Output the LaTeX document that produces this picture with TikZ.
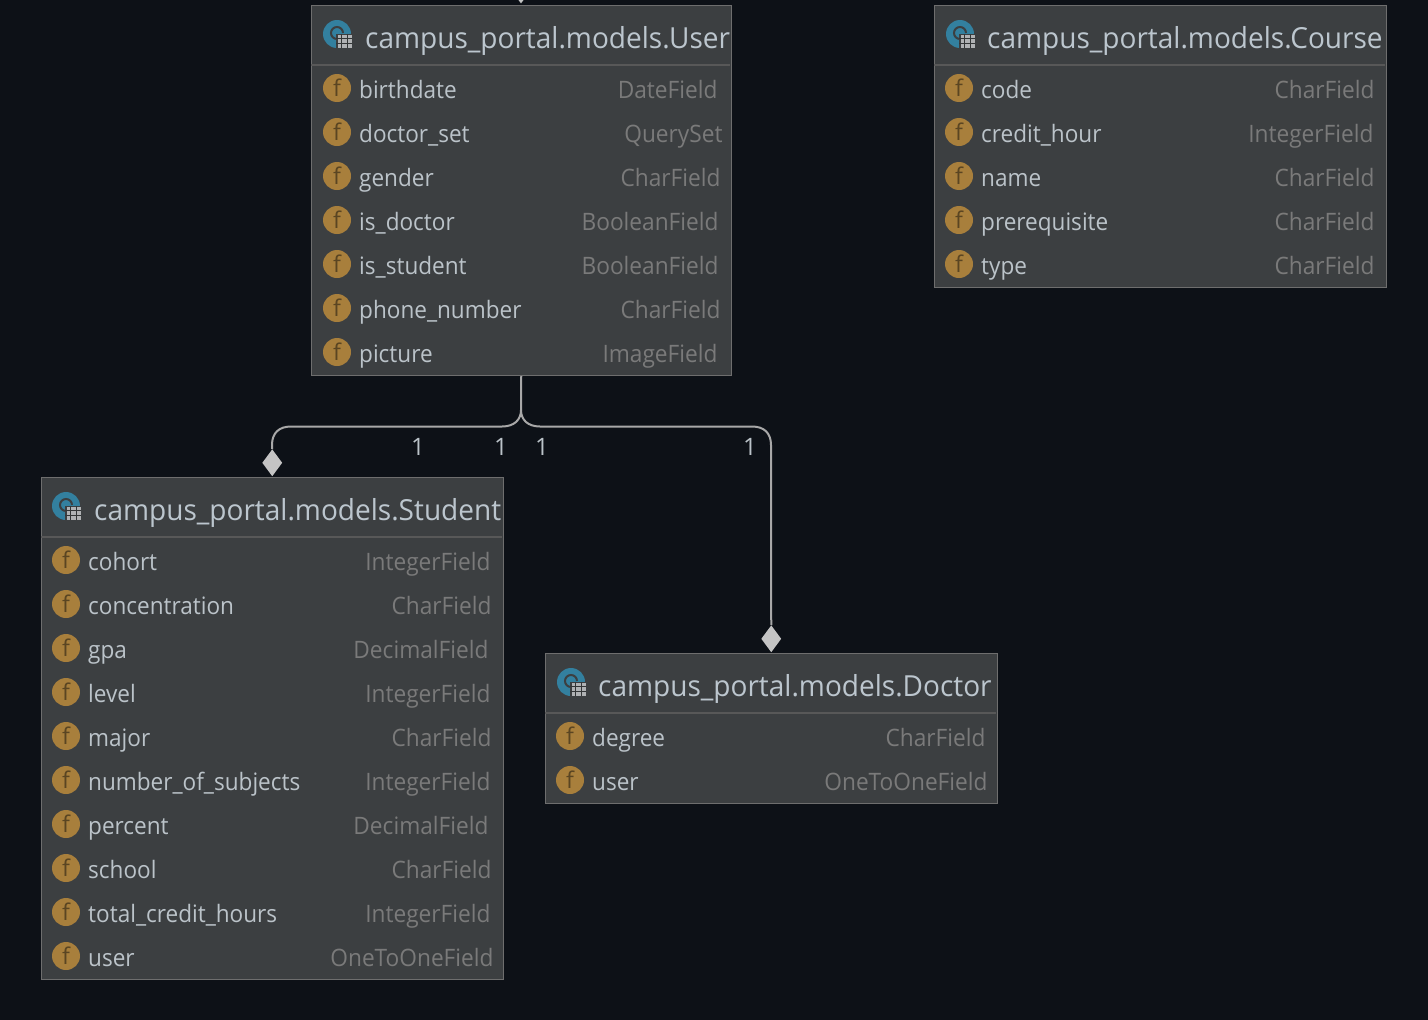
\documentclass[tikz,border=0pt]{standalone}
\usepackage{fontspec}
\setmainfont{Open Sans}
\newfontfamily\titlefont[FakeStretch=0.966]{Open Sans}
\newfontfamily\namefont[FakeStretch=0.94]{Open Sans}
\newfontfamily\typefont[FakeStretch=0.945]{Open Sans}
\usetikzlibrary{shapes.geometric}
\definecolor{bgc}{HTML}{0D1117}
\definecolor{boxc}{HTML}{3C3F41}
\definecolor{edgec}{HTML}{6E6E6E}
\definecolor{linec}{HTML}{A8A8A8}
\definecolor{diac}{HTML}{C4C4C4}
\definecolor{titlec}{HTML}{BCC6CE}
\definecolor{namec}{HTML}{BBC3C9}
\definecolor{typec}{HTML}{7A7A7A}
\definecolor{iconc}{HTML}{A87F3C}
\definecolor{iconf}{HTML}{5A4522}
\definecolor{tealc}{HTML}{33809F}
\definecolor{gridc}{HTML}{B0B2B4}
\tikzset{
  classbox/.style={draw=edgec,fill=boxc,line width=1.5pt,inner sep=0pt,anchor=north west},
  titletext/.style={anchor=base west,inner sep=0pt,text=titlec,font=\titlefont\fontsize{29}{29}\selectfont},
  nametext/.style={anchor=base west,inner sep=0pt,text=namec,font=\namefont\fontsize{24}{24}\selectfont},
  typetext/.style={anchor=base east,inner sep=0pt,text=typec,font=\typefont\fontsize{24}{24}\selectfont},
  ficon/.style={circle,fill=iconc,minimum size=28pt,inner sep=0pt,text=iconf,font=\fontsize{23}{23}\selectfont},
  cicon/.style={circle,fill=tealc,minimum size=28pt,inner sep=0pt},
  tabicon/.style={rectangle,draw=boxc,line width=1.5pt,fill=gridc,minimum width=16pt,minimum height=14pt,inner sep=0pt},
  mult/.style={inner sep=0pt,text=namec,font=\fontsize{24}{24}\selectfont},
  compdia/.style={diamond,fill=diac,inner sep=0pt,minimum width=20pt,minimum height=27pt,aspect=0.74},
  conn/.style={draw=linec,line width=2pt},
}
% id, left, right, title x, class icon x, top y, title text
\newcommand{\classhead}[7]{%
  \node[cicon] (#1-icon) at (#5,#6+29) {};
  \draw[boxc,line width=2pt] (#5+6,#6+28) arc[start angle=0,end angle=270,radius=6pt];
  \node[tabicon] (#1-tab) at (#5+8,#6+36.5) {};
  \draw[boxc!85!black,line width=.9pt] (#1-tab.north west)++(0,4.7) -- ++(16,0) (#1-tab.north west)++(0,9.3) -- ++(16,0)
     (#1-tab.north west)++(5.3,0) -- ++(0,14) (#1-tab.north west)++(10.7,0) -- ++(0,14);
  \draw[edgec!115,line width=1.5pt] (#2,#6+60) -- (#3,#6+60);
  \node[titletext] (#1-title) at (#4,#6+43) {#7};
}
% id, icon x, text x, y, name, type, type right
\newcommand{\frow}[7]{%
  \node[ficon] (#1-i#4) at (#2,#4) {f};
  \node[nametext] (#1-n#4) at (#3,#4+10) {#5};
  \node[typetext] (#1-t#4) at (#7+0.7,#4+10) {#6};
}
\begin{document}
\begin{tikzpicture}[x=1pt,y=-1pt]
\useasboundingbox[fill=bgc] (0,0) rectangle (1428,1020);

\node[compdia] (topdia) at (521,-10) {};
\node[classbox,minimum width=420pt,minimum height=370pt] (user) at (310.5,4.5) {};
\node[classbox,minimum width=452pt,minimum height=282pt] (course) at (933.5,4.5) {};
\node[classbox,minimum width=462pt,minimum height=502pt] (student) at (40.5,476.5) {};
\node[classbox,minimum width=452pt,minimum height=150pt] (doctor) at (544.5,652.5) {};

\node[compdia,anchor=south] (sdia) at (student.north) {};
\node[compdia,anchor=south] (ddia) at (doctor.north) {};
\coordinate (fork) at (521,410);
\draw[conn] (user.south) -- (fork);
\draw[conn] (fork) .. controls (521,420) and (514,426.5) .. (502,426.5) -- (291,426.5)
  .. controls (279,426.5) and (272,433) .. (272,445) -- (sdia.north);
\draw[conn] (fork) .. controls (521,420) and (528,426.5) .. (540,426.5) -- (752,426.5)
  .. controls (764,426.5) and (771,433) .. (771,445) -- (ddia.north);

\node[mult] (m1) at (418,446.5) {1};
\node[mult] (m2) at (501,446.5) {1};
\node[mult] (m3) at (542,446.5) {1};
\node[mult] (m4) at (750,446.5) {1};

% User
\classhead{user}{311}{730}{365}{337}{5}{campus\_portal.models.User}
\frow{user}{337}{359}{88}{birthdate}{DateField}{717}
\frow{user}{337}{359}{132}{doctor\_set}{QuerySet}{722}
\frow{user}{337}{359}{176}{gender}{CharField}{720}
\frow{user}{337}{359}{220}{is\_doctor}{BooleanField}{718}
\frow{user}{337}{359}{264}{is\_student}{BooleanField}{718}
\frow{user}{337}{359}{308}{phone\_number}{CharField}{720}
\frow{user}{337}{359}{352}{picture}{ImageField}{717}

% Course
\classhead{course}{934}{1385}{987}{960}{5}{campus\_portal.models.Course}
\frow{course}{959}{981}{88}{code}{CharField}{1374}
\frow{course}{959}{981}{132}{credit\_hour}{IntegerField}{1373}
\frow{course}{959}{981}{176}{name}{CharField}{1374}
\frow{course}{959}{981}{220}{prerequisite}{CharField}{1374}
\frow{course}{959}{981}{264}{type}{CharField}{1374}

% Student
\classhead{student}{41}{502}{94}{66}{477}{campus\_portal.models.Student}
\frow{student}{66}{88}{560}{cohort}{IntegerField}{490}
\frow{student}{66}{88}{604}{concentration}{CharField}{491}
\frow{student}{66}{88}{648}{gpa}{DecimalField}{488}
\frow{student}{66}{88}{692}{level}{IntegerField}{490}
\frow{student}{66}{88}{736}{major}{CharField}{491}
\frow{student}{66}{88}{780}{number\_of\_subjects}{IntegerField}{490}
\frow{student}{66}{88}{824}{percent}{DecimalField}{488}
\frow{student}{66}{88}{868}{school}{CharField}{491}
\frow{student}{66}{88}{912}{total\_credit\_hours}{IntegerField}{490}
\frow{student}{66}{88}{956}{user}{OneToOneField}{493}

% Doctor
\classhead{doctor}{545}{996}{598}{571}{653}{campus\_portal.models.Doctor}
\frow{doctor}{570}{592}{736}{degree}{CharField}{985}
\frow{doctor}{570}{592}{780}{user}{OneToOneField}{987}
\end{tikzpicture}
\end{document}
